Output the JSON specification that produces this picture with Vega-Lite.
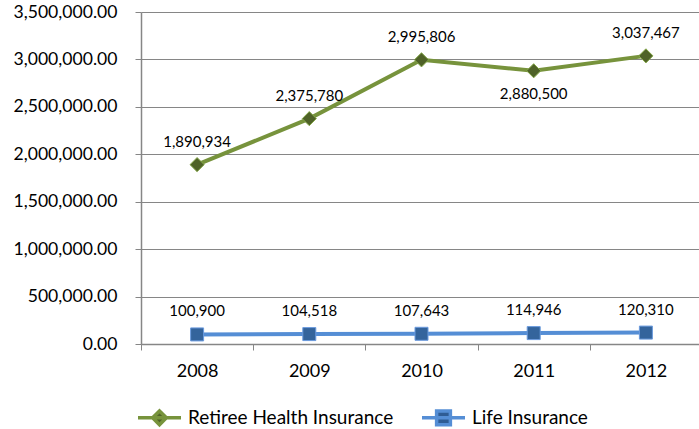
{
  "$schema": "https://vega.github.io/schema/vega-lite/v6.json",
  "width": 561,
  "height": 332,
  "padding": {"left": 13, "top": 3, "right": 0, "bottom": 0},
  "background": "white",
  "config": {
    "font": "Lato",
    "view": {"stroke": null},
    "axis": {"labelFont": "Lato", "labelColor": "#000000", "domainColor": "#868686", "tickColor": "#868686", "gridColor": "#868686", "labelOverlap": false}
  },
  "data": {
    "values": [
      {"year": "2008", "series": "Retiree Health Insurance", "value": 1890934},
      {"year": "2009", "series": "Retiree Health Insurance", "value": 2375780},
      {"year": "2010", "series": "Retiree Health Insurance", "value": 2995806},
      {"year": "2011", "series": "Retiree Health Insurance", "value": 2880500},
      {"year": "2012", "series": "Retiree Health Insurance", "value": 3037467},
      {"year": "2008", "series": "Life Insurance", "value": 100900},
      {"year": "2009", "series": "Life Insurance", "value": 104518},
      {"year": "2010", "series": "Life Insurance", "value": 107643},
      {"year": "2011", "series": "Life Insurance", "value": 114946},
      {"year": "2012", "series": "Life Insurance", "value": 120310}
    ]
  },
  "encoding": {
    "x": {
      "field": "year", "type": "ordinal", "bandPosition": 0.5,
      "scale": {"type": "band", "paddingInner": 0, "paddingOuter": 0},
      "axis": {"title": null, "labelAngle": 0, "labelFontSize": 18, "tickBand": "extent", "tickSize": 6, "labelPadding": 12, "domainColor": "#868686", "domainWidth": 1.5}
    },
    "y": {
      "field": "value", "type": "quantitative",
      "scale": {"domain": [0, 3500000], "nice": false},
      "axis": {"title": null, "format": ",.2f", "values": [0, 500000, 1000000, 1500000, 2000000, 2500000, 3000000, 3500000], "labelFontSize": 17.6, "labelOverlap": false, "tickSize": 6, "labelPadding": 18, "grid": true, "gridWidth": 1.2, "domainWidth": 1.5}
    }
  },
  "layer": [
    {
      "mark": {"type": "line", "strokeWidth": 4},
      "encoding": {
        "stroke": {
          "field": "series", "type": "nominal",
          "scale": {"domain": ["Retiree Health Insurance", "Life Insurance"], "range": ["#77933C", "#558ED5"]},
          "legend": {
            "title": null, "orient": "none", "direction": "horizontal",
            "legendX": -5, "legendY": 382,
            "symbolSize": 1849, "labelFontSize": 19, "labelFont": "Lato", "labelColor": "#000000", "labelLimit": 400,
            "labelOffset": 5, "columnPadding": 21,
            "encode": {
              "symbols": {
                "update": {
                  "shape": {"signal": "datum.value === 'Life Insurance' ? 'M-1,0L1,0M-0.32,-0.32L0.32,-0.32L0.32,0.32L-0.32,0.32Z' : 'M-1,0L1,0M0,-0.32L0.32,0L0,0.32L-0.32,0Z'"},
                  "fill": {"signal": "datum.value === 'Life Insurance' ? '#2F5C94' : '#4F6228'"},
                  "strokeWidth": {"value": 3.5},
                  "opacity": {"value": 1},
                  "fillOpacity": {"value": 1}
                }
              }
            }
          }
        }
      }
    },
    {
      "transform": [{"filter": "datum.series === 'Retiree Health Insurance'"}],
      "mark": {"type": "point", "shape": "diamond", "filled": true, "size": 200, "fill": "#4F6228", "stroke": "#86A84A", "strokeWidth": 1, "opacity": 1}
    },
    {
      "transform": [{"filter": "datum.series === 'Life Insurance'"}],
      "mark": {"type": "point", "shape": "square", "filled": true, "size": 169, "fill": "#34649C", "stroke": "#6B9BDE", "strokeWidth": 1, "opacity": 1}
    },
    {
      "transform": [{"filter": "!(datum.series === 'Retiree Health Insurance' && datum.year === '2011')"}],
      "mark": {"type": "text", "dy": -23, "fontSize": 15, "font": "Lato", "color": "#000000"},
      "encoding": {"text": {"field": "value", "type": "quantitative", "format": ","}}
    },
    {
      "transform": [{"filter": "datum.series === 'Retiree Health Insurance' && datum.year === '2011'"}],
      "mark": {"type": "text", "dy": 23, "fontSize": 15, "font": "Lato", "color": "#000000"},
      "encoding": {"text": {"field": "value", "type": "quantitative", "format": ","}}
    }
  ]
}
